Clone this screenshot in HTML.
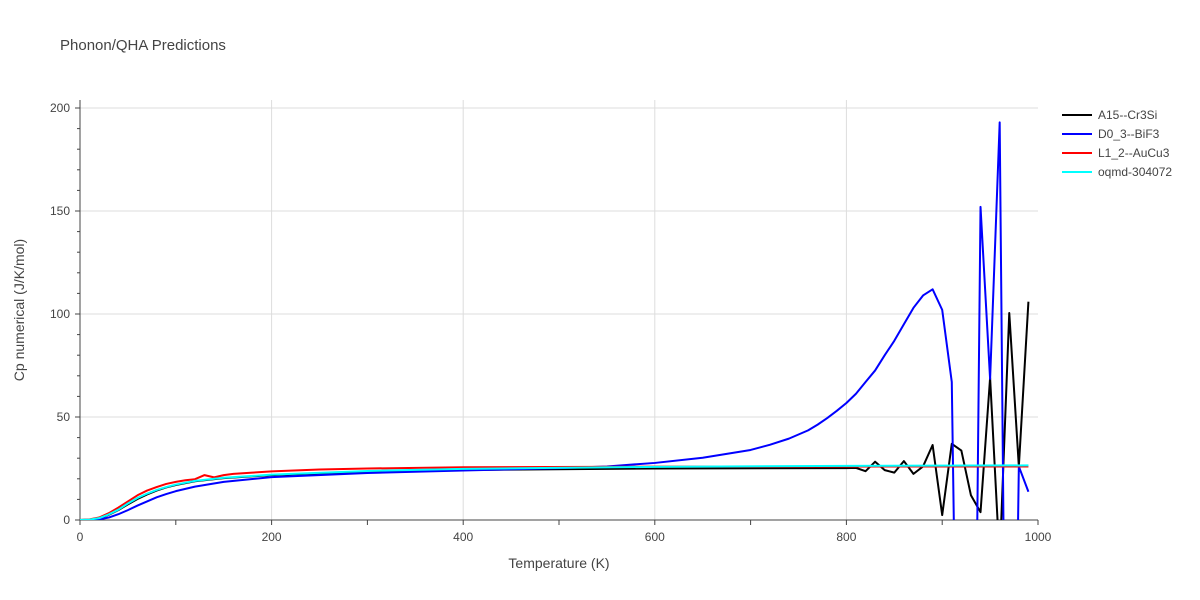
<!DOCTYPE html>
<html><head><meta charset="utf-8"><style>
html,body{margin:0;padding:0;background:#fff;overflow:hidden;width:1200px;height:600px}
svg{display:block}
text{font-family:"Liberation Sans",sans-serif}
</style></head><body>
<svg id="chart" width="1200" height="600">
<defs><clipPath id="clip"><rect x="80" y="100" width="958" height="420"/></clipPath></defs>
<text x="60" y="50" font-size="15" fill="#444">Phonon/QHA Predictions</text>
<g id="grid"></g><g id="axes"></g><g id="series" clip-path="url(#clip)"></g><g id="legend"></g>
<text x="559" y="568" text-anchor="middle" font-size="14" fill="#444">Temperature (K)</text>
<text transform="translate(24,310) rotate(-90)" text-anchor="middle" font-size="14" fill="#444">Cp numerical (J/K/mol)</text>
</svg>
<script>
const xTicks=[0,200,400,600,800,1000];
const yTicks=[0,50,100,150,200];
const seriesNames=["A15--Cr3Si","D0_3--BiF3","L1_2--AuCu3","oqmd-304072"];
const seriesColors=["#000000","#0000ff","#ff0000","#00ffff"];
const tBlack=[0,10,20,30,40,50,60,70,80,90,100,120,150,200,300,400,600,800,810,820,830,840,850,860,870,880,890,900,910,920,930,940,950,960,970,980,990];
const vBlack=[0,0.2,0.8,2.5,4.8,7.6,10.2,12.4,14.3,15.8,17,18.8,20.3,21.8,23.5,24.3,25,25.2,25.3,23.7,28.3,24.2,23,28.6,22.4,26,36.4,2.4,37,33.7,12,3.8,69,-20,100.5,26,106];
const tBlue=[0,10,20,30,40,50,60,70,80,90,100,120,150,200,300,400,500,550,600,650,700,720,740,760,770,780,790,800,810,820,830,840,850,860,870,880,890,900,910,920,930,940,950,960,970,980,990];
const vBlue=[0,0.05,0.3,1.2,2.8,4.8,7,9,11,12.6,14,16.2,18.5,20.8,22.8,24,25.2,26,27.7,30.2,34,36.5,39.5,43.5,46.3,49.5,53,56.8,61.3,67,72.6,80,87,95,103,109,112,102,67,-250,-300,152,68.5,193,-300,26,13.7];
const tRed=[0,10,20,30,40,50,60,70,80,90,100,110,120,130,140,150,160,180,200,250,300,400,600,990];
const vRed=[0,0.3,1.2,3.3,6,9,12,14.3,16,17.5,18.5,19.3,19.8,21.8,20.7,21.8,22.4,23,23.6,24.5,25,25.6,25.9,26];
const tCyan=[0,10,20,30,40,50,60,70,80,90,100,120,150,200,300,400,600,800,990];
const vCyan=[0,0.2,0.9,2.7,5,8,10.7,12.8,14.6,16,17.2,19,20.5,22,23.8,24.8,25.8,26.3,26.5];
const sx=t=>80+t*0.958, sy=v=>520-v*2.06;
const NS="http://www.w3.org/2000/svg";
function mk(tag,attrs,parent){const e=document.createElementNS(NS,tag);for(const k in attrs)e.setAttribute(k,attrs[k]);parent.appendChild(e);return e;}
const grid=document.getElementById('grid'),axes=document.getElementById('axes'),ser=document.getElementById('series'),leg=document.getElementById('legend');
xTicks.forEach(t=>{if(t>0&&t<1000){const l=mk('line',{x1:sx(t),x2:sx(t),y1:100,y2:520,stroke:'#ddd'},grid);

}
const tx=mk('text',{x:sx(t),y:541,'text-anchor':'middle','font-size':12,fill:'#444'},axes);tx.textContent=t;

});
for(let t=0;t<=1000;t+=100){const l=mk('line',{x1:sx(t),x2:sx(t),y1:520,y2:525,stroke:'#444'},axes);

}
yTicks.forEach(v=>{if(v>0){const l=mk('line',{x1:80,x2:1038,y1:sy(v),y2:sy(v),stroke:'#ddd'},grid);

}
const tx=mk('text',{x:70,y:sy(v)+4,'text-anchor':'end','font-size':12,fill:'#444'},axes);tx.textContent=v;


const tk=mk('line',{x1:75,x2:80,y1:sy(v),y2:sy(v),stroke:'#444'},axes);

});
for(let v=10;v<200;v+=10){if(v%50){const tk=mk('line',{x1:77,x2:80,y1:sy(v),y2:sy(v),stroke:'#444'},axes);

}}
const xa=mk('line',{x1:80,x2:1038,y1:520,y2:520,stroke:'#444'},axes);


const ya=mk('line',{x1:80,x2:80,y1:100,y2:520,stroke:'#444'},axes);


function draw(ts,vs,col,name){const pts=ts.map((t,i)=>[t,vs[i]]).sort((a,b)=>a[0]-b[0]).map(p=>sx(p[0])+','+sy(p[1])).join(' ');
const p=mk('polyline',{points:pts,fill:'none',stroke:col,'stroke-width':2,'stroke-linejoin':'round'},ser);

}
draw(tBlack,vBlack,seriesColors[0],'series-a15-cr3si');
draw(tBlue,vBlue,seriesColors[1],'series-d0-3-bif3');
draw(tRed,vRed,seriesColors[2],'series-l1-2-aucu3');
draw(tCyan,vCyan,seriesColors[3],'series-oqmd-304072');
seriesNames.forEach((n,i)=>{const y=115+i*19;
const g=mk('g',{},leg);


mk('line',{x1:1062,x2:1092,y1:y,y2:y,stroke:seriesColors[i],'stroke-width':2},g);
const t=mk('text',{x:1098,y:y+4,'font-size':12,fill:'#444'},g);t.textContent=n;});
</script>
</body></html>
